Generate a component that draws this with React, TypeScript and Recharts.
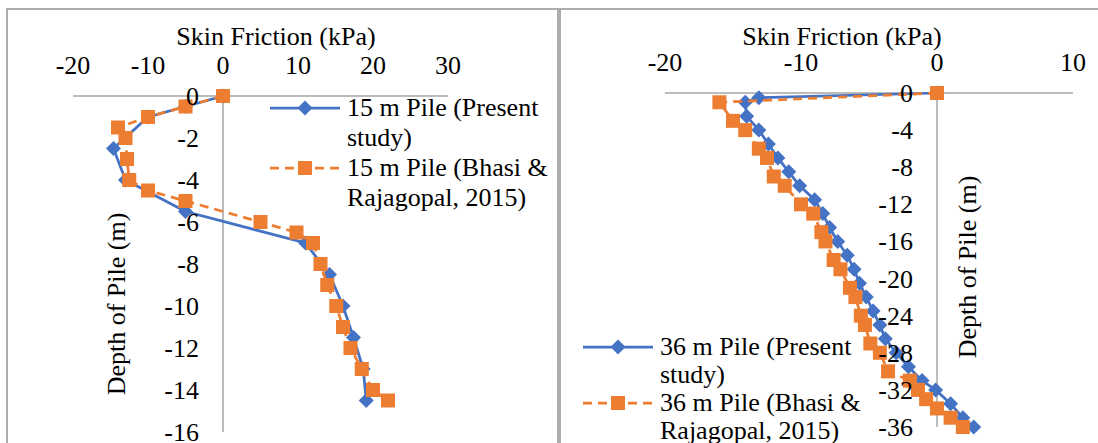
import React from "react";
import { Legend, ReferenceLine, Scatter, ScatterChart, XAxis, YAxis } from "recharts";

const BLUE = "#4472C4";
const ORANGE = "#ED7D31";
const AXIS_GREY = "#A6A6A6";
const FRAME_GREY = "#ADADAD";
const FONT = '"Liberation Serif", "Times New Roman", serif';
const FONT_SIZE = 26;
const LINE_WIDTH = 2.75;

const X_TITLE = "Skin Friction (kPa)";
const Y_TITLE = "Depth of Pile (m)";

// 15 m pile
const P15_NAMES = ["15 m Pile (Present study)", "15 m Pile (Bhasi & Rajagopal, 2015)"];
const P15_X_TICKS = [-20, -10, 0, 10, 20, 30];
const P15_Y_TICKS = [0, -2, -4, -6, -8, -10, -12, -14, -16];
const P15_PRESENT_DEPTH = [0, -0.5, -1, -2.5, -4, -5.5, -7, -8.5, -10, -11.5, -13, -14.5];
const P15_PRESENT_FRICTION = [0, -5, -10, -14.6, -13, -5, 11, 14.2, 16, 17.4, 18.7, 19.1];
const P15_BHASI_DEPTH = [0, -0.5, -1, -1.5, -2, -3, -4, -4.5, -5, -6, -6.5, -7, -8, -9, -10, -11, -12, -13, -14, -14.5];
const P15_BHASI_FRICTION = [0, -5, -10, -14, -13, -12.8, -12.5, -10, -5, 5, 9.8, 12, 13, 13.9, 15.1, 16, 17, 18.5, 20, 22];

// 36 m pile
const P36_NAMES = ["36 m Pile (Present study)", "36 m Pile (Bhasi & Rajagopal, 2015)"];
const P36_X_TICKS = [-20, -10, 0, 10];
const P36_Y_TICKS = [0, -4, -8, -12, -16, -20, -24, -28, -32, -36];
const P36_PRESENT_DEPTH = [0, -0.5, -1, -2.5, -4, -5.5, -7, -8.5, -10, -11.5, -13, -14.5, -16, -17.5, -19, -20.5, -22, -23.5, -25, -26.5, -28, -29.5, -31, -32, -33.5, -35, -36];
const P36_PRESENT_FRICTION = [0, -13.1, -14.1, -14, -13.1, -12.4, -11.7, -10.9, -10.1, -9, -8.4, -7.9, -7.3, -6.6, -6.1, -5.7, -5.2, -4.7, -4.2, -3.8, -3, -2.1, -1.1, -0.1, 1, 1.9, 2.7];
const P36_BHASI_DEPTH = [0, -1, -3, -4, -6, -7, -9, -10, -12, -13, -15, -16, -18, -19, -21, -22, -24, -25, -27, -28, -30, -31, -32, -33, -34, -35, -36];
const P36_BHASI_FRICTION = [0, -16, -15, -14.1, -13.1, -12.5, -12, -11.2, -10, -9.1, -8.5, -8.2, -7.6, -7.1, -6.4, -6, -5.6, -5.3, -4.9, -4.2, -3.6, -2, -1.4, -0.8, 0, 1, 1.9];

type Pt = { friction: number; depth: number };
const toPoints = (friction: number[], depth: number[]): Pt[] =>
  friction.map((f, i) => ({ friction: f, depth: depth[i] }));

const Diamond = ({ cx, cy, fill }: any) => (
  <path d={`M${cx},${cy - 7.5}L${cx + 7.5},${cy}L${cx},${cy + 7.5}L${cx - 7.5},${cy}Z`} fill={fill} />
);
const Square = ({ cx, cy, fill }: any) => (
  <rect x={cx - 7} y={cy - 7} width={14} height={14} fill={fill} />
);

// index 0 = present study, 1 = Bhasi & Rajagopal
const SERIES_STYLE = [
  { color: BLUE, dash: undefined as string | undefined, Marker: Diamond },
  { color: ORANGE, dash: "9 6", Marker: Square },
];

const textProps = { fontFamily: FONT, fontSize: FONT_SIZE, fill: "#000" };

const LegendBox = ({ payload, names, lineHeight }: any) => {
  const items = [...(payload || [])].sort(
    (a: any, b: any) => names.indexOf(a.value) - names.indexOf(b.value)
  );
  return (
    <div style={{ fontFamily: FONT, fontSize: FONT_SIZE, color: "#000" }}>
      {items.map((entry: any) => {
        const s = SERIES_STYLE[names.indexOf(entry.value)];
        const mid = lineHeight / 2;
        return (
          <div key={entry.value} style={{ display: "flex", alignItems: "flex-start" }}>
            <svg width={70} height={lineHeight} style={{ flex: "none" }}>
              <line x1={0} x2={70} y1={mid} y2={mid} stroke={s.color} strokeWidth={LINE_WIDTH} strokeDasharray={s.dash} />
              <s.Marker cx={35} cy={mid} fill={s.color} />
            </svg>
            <div style={{ marginLeft: 7, width: 205, lineHeight: `${lineHeight}px` }}>{entry.value}</div>
          </div>
        );
      })}
    </div>
  );
};

type PanelProps = {
  left: number;
  width: number;
  height: number;
  margin: { top: number; right: number; bottom: number; left: number };
  xDomain: [number, number];
  yDomain: [number, number];
  xTicks: number[];
  yTicks: number[];
  names: string[];
  present: Pt[];
  bhasi: Pt[];
  legend: { left: number; top: number; lineHeight: number };
  xTitle: { dx: number; offset: number };
  yTitle: { dx: number; dy: number };
};

const Y_AXIS_WIDTH = 1;

const Panel: React.FC<PanelProps> = (p) => {
  const plotWidth = p.width - p.margin.left - p.margin.right - Y_AXIS_WIDTH;
  // y labels sit left of the x = 0 line, not at the plot edge
  const zeroOffset = (plotWidth * (0 - p.xDomain[0])) / (p.xDomain[1] - p.xDomain[0]);
  const yShift = zeroOffset - 24;

  return (
    <div style={{ position: "absolute", left: p.left, top: 0 }}>
      <ScatterChart width={p.width} height={p.height} margin={p.margin}>
        <XAxis
          type="number"
          dataKey="friction"
          orientation="top"
          height={30}
          domain={p.xDomain}
          ticks={p.xTicks}
          interval={0}
          tickSize={0}
          tickMargin={0}
          tickLine={false}
          axisLine={{ stroke: AXIS_GREY, strokeWidth: 1.5 }}
          tick={(t: any) => (
            <text x={t.x} y={t.y} dy={-22} textAnchor="middle" {...textProps}>
              {t.payload.value}
            </text>
          )}
          label={{
            content: ({ viewBox }: any) => (
              <text
                x={viewBox.x + viewBox.width / 2 + p.xTitle.dx}
                y={viewBox.y - p.xTitle.offset}
                textAnchor="middle"
                {...textProps}
              >
                {X_TITLE}
              </text>
            ),
          }}
        />
        <YAxis
          type="number"
          dataKey="depth"
          width={Y_AXIS_WIDTH}
          domain={p.yDomain}
          ticks={p.yTicks}
          interval={0}
          tickSize={0}
          tickMargin={0}
          tickLine={false}
          axisLine={false}
          tick={(t: any) => (
            <text x={t.x + yShift} y={t.y} dy={9} textAnchor="end" {...textProps}>
              {t.payload.value}
            </text>
          )}
          label={{
            content: ({ viewBox }: any) => {
              const cx = viewBox.x + p.yTitle.dx;
              const cy = viewBox.y + viewBox.height / 2 + p.yTitle.dy;
              return (
                <text x={cx} y={cy} transform={`rotate(-90, ${cx}, ${cy})`} textAnchor="middle" {...textProps}>
                  {Y_TITLE}
                </text>
              );
            },
          }}
        />
        <ReferenceLine x={0} stroke={AXIS_GREY} strokeWidth={1.5} />
        <Scatter
          name={p.names[0]}
          data={p.present}
          fill={BLUE}
          line={{ stroke: BLUE, strokeWidth: LINE_WIDTH }}
          shape={(s: any) => <Diamond cx={s.cx} cy={s.cy} fill={BLUE} />}
          isAnimationActive={false}
        />
        <Scatter
          name={p.names[1]}
          data={p.bhasi}
          fill={ORANGE}
          line={{ stroke: ORANGE, strokeWidth: LINE_WIDTH, strokeDasharray: "9 6" }}
          shape={(s: any) => <Square cx={s.cx} cy={s.cy} fill={ORANGE} />}
          isAnimationActive={false}
        />
        <Legend
          layout="vertical"
          align="center"
          verticalAlign="middle"
          wrapperStyle={{ left: p.legend.left, top: p.legend.top, width: 290 }}
          content={(lp: any) => (
            <LegendBox payload={lp.payload} names={p.names} lineHeight={p.legend.lineHeight} />
          )}
        />
      </ScatterChart>
    </div>
  );
};

export default function App() {
  return (
    <div style={{ position: "absolute", left: 0, top: 0, width: 1098, height: 443, overflow: "hidden", background: "#fff" }}>
      <div style={{ position: "absolute", left: 6, top: 8, width: 549, height: 500, border: `2px solid ${FRAME_GREY}` }} />
      <div style={{ position: "absolute", left: 559, top: 8, width: 600, height: 500, border: `2px solid ${FRAME_GREY}` }} />
      <Panel
        left={0}
        width={560}
        height={443}
        margin={{ top: 66, right: 112, bottom: 11, left: 72 }}
        xDomain={[-20, 30]}
        yDomain={[-16, 0]}
        xTicks={P15_X_TICKS}
        yTicks={P15_Y_TICKS}
        names={P15_NAMES}
        present={toPoints(P15_PRESENT_FRICTION, P15_PRESENT_DEPTH)}
        bhasi={toPoints(P15_BHASI_FRICTION, P15_BHASI_DEPTH)}
        legend={{ left: 270, top: 93, lineHeight: 30 }}
        xTitle={{ dx: 15.5, offset: 21 }}
        yTitle={{ dx: 53, dy: 40 }}
      />
      <Panel
        left={560}
        width={538}
        height={443}
        margin={{ top: 63, right: 25, bottom: 16, left: 104 }}
        xDomain={[-20, 10]}
        yDomain={[-36, 0]}
        xTicks={P36_X_TICKS}
        yTicks={P36_Y_TICKS}
        names={P36_NAMES}
        present={toPoints(P36_PRESENT_FRICTION, P36_PRESENT_DEPTH)}
        bhasi={toPoints(P36_BHASI_FRICTION, P36_BHASI_DEPTH)}
        legend={{ left: 23, top: 333, lineHeight: 28 }}
        xTitle={{ dx: -27, offset: 18 }}
        yTitle={{ dx: 312, dy: 7 }}
      />
    </div>
  );
}
